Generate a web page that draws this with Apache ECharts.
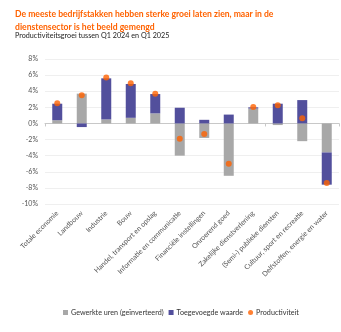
<!DOCTYPE html>
<html>
<head>
<meta charset="utf-8">
<script src="https://cdn.jsdelivr.net/npm/echarts@6/dist/echarts.min.js"></script>
<style>
  html, body { margin: 0; padding: 0; background: #fff; }
  #chart { width: 341px; height: 332px; }
</style>
</head>
<body>
<div id="chart"></div>
<script>
// Sectors, Q1 2024 -> Q1 2025
const categories = [
  'Totale economie', 'Landbouw', 'Industrie', 'Bouw',
  'Handel, transport en opslag', 'Informatie en communicatie',
  'Financiële instellingen', 'Onroerend goed', 'Zakelijke dienstverlening',
  '(Semi-) publieke diensten', 'Cultuur, sport en recreatie',
  'Delfstoffen, energie en water'
];
// Growth of hours worked, sign inverted (%)
const gewerkteUren = [0.4, 3.7, 0.5, 0.7, 1.25, -4.0, -1.8, -6.5, 1.85, -0.2, -2.2, -3.6];
// Growth of value added (%)
const toegevoegdeWaarde = [2.05, -0.45, 5.1, 4.2, 2.4, 1.95, 0.45, 1.1, 0.15, 2.45, 2.9, -4.0];
// Productivity growth (%)
const productiviteit = [2.5, 3.5, 5.7, 5.0, 3.7, -1.9, -1.3, -5.0, 2.05, 2.25, 0.65, -7.4];

const yTicks = { min: -10, max: 8, interval: 2 };

const ORANGE = '#ff6200';
const PURPLE = '#524f9c';
const GREY = '#a8a8a8';
const FONT = 'Lato, "Open Sans", sans-serif';

const chart = echarts.init(document.getElementById('chart'), null, { renderer: 'canvas' });

chart.setOption({
  animation: false,
  backgroundColor: '#fff',
  textStyle: { fontFamily: FONT },
  title: [
    {
      text: 'De meeste bedrijfstakken hebben sterke groei laten zien, maar in de\ndienstensector is het beeld gemengd',
      left: 10, top: 3,
      textStyle: { color: ORANGE, fontSize: 8.6, fontWeight: 'bold', lineHeight: 12.5, fontFamily: FONT }
    },
    {
      text: 'Productiviteitsgroei tussen Q1 2024 en Q1 2025',
      left: 10, top: 27,
      textStyle: { color: '#222', fontSize: 7.2, fontWeight: 'normal', fontFamily: FONT }
    }
  ],
  legend: {
    bottom: 11, left: 58,
    itemWidth: 5, itemHeight: 5, itemGap: 5,
    textStyle: { fontSize: 7.2, color: '#333', padding: [0, 0, 0, -2], fontFamily: FONT },
    data: [
      { name: 'Gewerkte uren (geïnverteerd)', icon: 'rect' },
      { name: 'Toegevoegde waarde', icon: 'rect' },
      { name: 'Productiviteit', icon: 'circle' }
    ]
  },
  grid: { left: 45, right: 2, top: 59, bottom: 128, containLabel: false },
  xAxis: [
    {
      type: 'category',
      data: categories,
      axisLine: { show: false, onZero: false },
      axisTick: { show: false },
      axisLabel: {
        rotate: 45, fontSize: 7, color: '#555', margin: 8, interval: 0, fontFamily: FONT
      }
    },
    {
      type: 'category',
      data: categories,
      position: 'bottom',
      axisLine: { show: true, onZero: true, lineStyle: { color: '#c8c8c8', width: 1 } },
      axisTick: { show: true, length: 3, lineStyle: { color: '#c8c8c8' } },
      axisLabel: { show: false }
    }
  ],
  yAxis: {
    type: 'value',
    min: yTicks.min, max: yTicks.max, interval: yTicks.interval,
    axisLine: { show: false },
    axisTick: { show: false },
    splitLine: { lineStyle: { color: '#efefef', width: 1 } },
    axisLabel: {
      fontSize: 7, color: '#555', margin: 7, fontFamily: FONT,
      formatter: v => v + '%'
    }
  },
  series: [
    {
      name: 'Gewerkte uren (geïnverteerd)',
      type: 'bar', stack: 'groei',
      barWidth: 10,
      itemStyle: { color: GREY },
      data: gewerkteUren
    },
    {
      name: 'Toegevoegde waarde',
      type: 'bar', stack: 'groei',
      barWidth: 10,
      itemStyle: { color: PURPLE },
      data: toegevoegdeWaarde
    },
    {
      name: 'Productiviteit',
      type: 'scatter',
      symbol: 'circle', symbolSize: 6,
      itemStyle: { color: ORANGE },
      z: 5,
      data: productiviteit
    }
  ]
});
</script>
</body>
</html>
